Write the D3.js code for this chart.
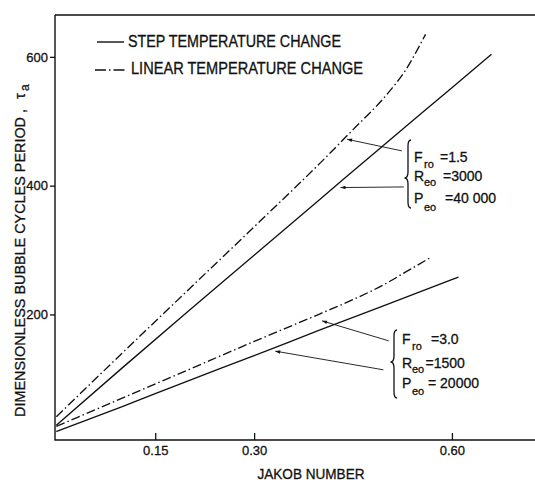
<!DOCTYPE html>
<html>
<head>
<meta charset="utf-8">
<script src="https://cdn.jsdelivr.net/npm/d3@7"></script>
<style>
  body { margin: 0; background: #fff; }
  svg { display: block; background: #fff; }
  text { font-family: "Liberation Sans", Arial, sans-serif; fill: #111; stroke: #111; stroke-width: 0.3px; }
</style>
</head>
<body>
<svg id="chart" width="535" height="482"></svg>
<script>
// Axis ticks
const jakobTicks = [0.15, 0.30, 0.60];
const periodTicks = [200, 400, 600];

// Fr = 1.5, Re = 3000, Pe = 40 000 — step temperature change
const stepHighJa = [0, 0.10, 0.20, 0.30, 0.40, 0.50, 0.60, 0.66];
const stepHighTau = [28, 117, 205, 292, 379, 466, 552, 604];

// Fr = 1.5, Re = 3000, Pe = 40 000 — linear temperature change
const linHighJa = [0, 0.10, 0.20, 0.30, 0.40, 0.45, 0.50, 0.53, 0.56];
const linHighTau = [41, 140, 238, 336, 435, 487, 540, 580, 635];

// Fr = 3.0, Re = 1500, Pe = 20 000 — step temperature change
const stepLowJa = [0, 0.10, 0.20, 0.30, 0.40, 0.50, 0.61];
const stepLowTau = [18, 57, 97, 136, 176, 215, 258];

// Fr = 3.0, Re = 1500, Pe = 20 000 — linear temperature change
const linLowJa = [0, 0.10, 0.20, 0.30, 0.40, 0.45, 0.50, 0.53, 0.567];
const linLowTau = [26, 70, 114, 158, 201, 223, 248, 266, 288];

// Legend entries
const legendLabels = ["STEP TEMPERATURE CHANGE", "LINEAR TEMPERATURE CHANGE"];

// Parameter groups: symbol, subscript, value
const highSymbols = ["F", "R", "P"];
const highSubs = ["ro", "eo", "eo"];
const highValues = ["=1.5", "=3000", "=40 000"];
const lowSymbols = ["F", "R", "P"];
const lowSubs = ["ro", "eo", "eo"];
const lowValues = ["=3.0", "=1500", "= 20000"];

// Leader arrows, in data units: [fromJa, fromTau, toJa, toTau]
const highArrows = [[0.524, 454, 0.441, 472], [0.527, 398, 0.431, 397]];
const lowArrows = [[0.504, 159, 0.403, 190], [0.496, 114, 0.332, 143]];

const svg = d3.select("#chart");
const plotLeft = 55, plotRight = 535, plotTop = 15, plotBottom = 440;

const x = d3.scaleLinear().domain([-0.002, 0.726]).range([plotLeft, plotRight]);
const y = d3.scaleLinear().domain([5, 665]).range([plotBottom, plotTop]);

const ink = "#111";
const dashDot = "9,3,1.5,3";

// Frame: left, bottom and top rules
svg.append("path")
  .attr("d", `M${plotLeft},${plotTop}V${plotBottom}H${plotRight}M${plotLeft},${plotTop}H${plotRight}`)
  .attr("fill", "none").attr("stroke", ink).attr("stroke-width", 1.4);

// X axis (ticks point inward)
const gx = svg.append("g").attr("transform", `translate(0,${plotBottom})`)
  .call(d3.axisBottom(x).tickValues(jakobTicks).tickFormat(d3.format(".2f"))
    .tickSizeInner(-7).tickSizeOuter(0).tickPadding(6));
gx.select(".domain").remove();
gx.selectAll("line").attr("stroke", ink).attr("stroke-width", 1.3);
gx.selectAll("text").attr("font-size", 13).attr("fill", ink).attr("font-family", "Liberation Sans, Arial, sans-serif");

// Y axis (ticks point outward)
const gy = svg.append("g").attr("transform", `translate(${plotLeft},0)`)
  .call(d3.axisLeft(y).tickValues(periodTicks).tickFormat(d3.format("d"))
    .tickSize(5).tickPadding(2));
gy.select(".domain").remove();
gy.selectAll("line").attr("stroke", ink).attr("stroke-width", 1.3);
gy.selectAll("text").attr("font-size", 13).attr("fill", ink).attr("font-family", "Liberation Sans, Arial, sans-serif");

// Axis titles
svg.append("text")
  .attr("x", 311).attr("y", 478.5)
  .attr("text-anchor", "middle").attr("font-size", 14)
  .attr("textLength", 107).attr("lengthAdjust", "spacingAndGlyphs")
  .text("JAKOB NUMBER");

const yTitle = svg.append("g").attr("transform", "translate(25,417) rotate(-90)");
yTitle.append("text")
  .attr("x", 0).attr("y", 0).attr("font-size", 15)
  .attr("textLength", 308).attr("lengthAdjust", "spacingAndGlyphs")
  .text("DIMENSIONLESS BUBBLE CYCLES PERIOD ,");
yTitle.append("text")
  .attr("x", 318).attr("y", 0).attr("font-size", 15).text("τ");
yTitle.append("text")
  .attr("x", 326).attr("y", 4).attr("font-size", 12).text("a");

// Curves
const line = d3.line().x(d => x(d[0])).y(d => y(d[1])).curve(d3.curveMonotoneX);
const series = [
  { ja: stepHighJa, tau: stepHighTau, dash: null },
  { ja: linHighJa, tau: linHighTau, dash: dashDot },
  { ja: stepLowJa, tau: stepLowTau, dash: null },
  { ja: linLowJa, tau: linLowTau, dash: dashDot }
];
svg.append("g").selectAll("path")
  .data(series)
  .join("path")
  .attr("d", s => line(d3.zip(s.ja, s.tau)))
  .attr("fill", "none")
  .attr("stroke", ink)
  .attr("stroke-width", 1.35)
  .attr("stroke-dasharray", s => s.dash);

// Legend
const legendY = [42, 70];
const legendTextY = [47, 73.5];
const legendTextX = [128, 131];
const legendWidths = [213, 232];
svg.append("line").attr("x1", 97).attr("x2", 124).attr("y1", legendY[0]).attr("y2", legendY[0])
  .attr("stroke", ink).attr("stroke-width", 1.4);
svg.append("line").attr("x1", 95).attr("x2", 126).attr("y1", legendY[1]).attr("y2", legendY[1])
  .attr("stroke", ink).attr("stroke-width", 1.4).attr("stroke-dasharray", "11,3,1.5,3");
legendLabels.forEach((t, i) => {
  svg.append("text")
    .attr("x", legendTextX[i]).attr("y", legendTextY[i])
    .attr("font-size", 16)
    .attr("textLength", legendWidths[i]).attr("lengthAdjust", "spacingAndGlyphs")
    .text(t);
});

// Arrowhead marker
svg.append("defs").append("marker")
  .attr("id", "head").attr("viewBox", "0 0 10 10")
  .attr("refX", 10).attr("refY", 5)
  .attr("markerWidth", 7).attr("markerHeight", 5)
  .attr("markerUnits", "userSpaceOnUse")
  .attr("orient", "auto")
  .append("path").attr("d", "M0,1.5L10,5L0,8.5Z").attr("fill", ink);

const arrows = highArrows.concat(lowArrows);
svg.append("g").selectAll("line")
  .data(arrows)
  .join("line")
  .attr("x1", a => x(a[0])).attr("y1", a => y(a[1]))
  .attr("x2", a => x(a[2])).attr("y2", a => y(a[3]))
  .attr("stroke", ink).attr("stroke-width", 0.9)
  .attr("marker-end", "url(#head)");

// Braces
function brace(cx, y0, y1, ym) {
  return `M${cx + 3},${y0} Q${cx},${y0} ${cx},${y0 + 6} L${cx},${ym - 6} ` +
         `Q${cx},${ym} ${cx - 3.5},${ym} Q${cx},${ym} ${cx},${ym + 6} ` +
         `L${cx},${y1 - 6} Q${cx},${y1} ${cx + 3},${y1}`;
}
svg.append("path").attr("d", brace(408, 140, 208, 178))
  .attr("fill", "none").attr("stroke", ink).attr("stroke-width", 1.3);
svg.append("path").attr("d", brace(394, 330, 398, 362))
  .attr("fill", "none").attr("stroke", ink).attr("stroke-width", 1.3);

// Parameter labels: capital letter, lowered subscript, then the value
function paramBlock(symbols, subs, values, symX, valX, baselines, subDrop) {
  const g = svg.append("g").attr("font-size", 14);
  symbols.forEach((s, i) => {
    g.append("text").attr("x", symX).attr("y", baselines[i]).text(s);
    g.append("text").attr("x", symX + 10).attr("y", baselines[i] + subDrop[i])
      .attr("font-size", 11).text(subs[i]);
    g.append("text").attr("x", valX[i]).attr("y", baselines[i]).text(values[i]);
  });
}
paramBlock(highSymbols, highSubs, highValues, 414, [440, 443, 445],
  [161.5, 180.5, 202.5], [6, 5, 8]);
paramBlock(lowSymbols, lowSubs, lowValues, 402, [431, 425.5, 428],
  [344, 367.5, 387.5], [6, 5, 7]);
</script>
</body>
</html>
